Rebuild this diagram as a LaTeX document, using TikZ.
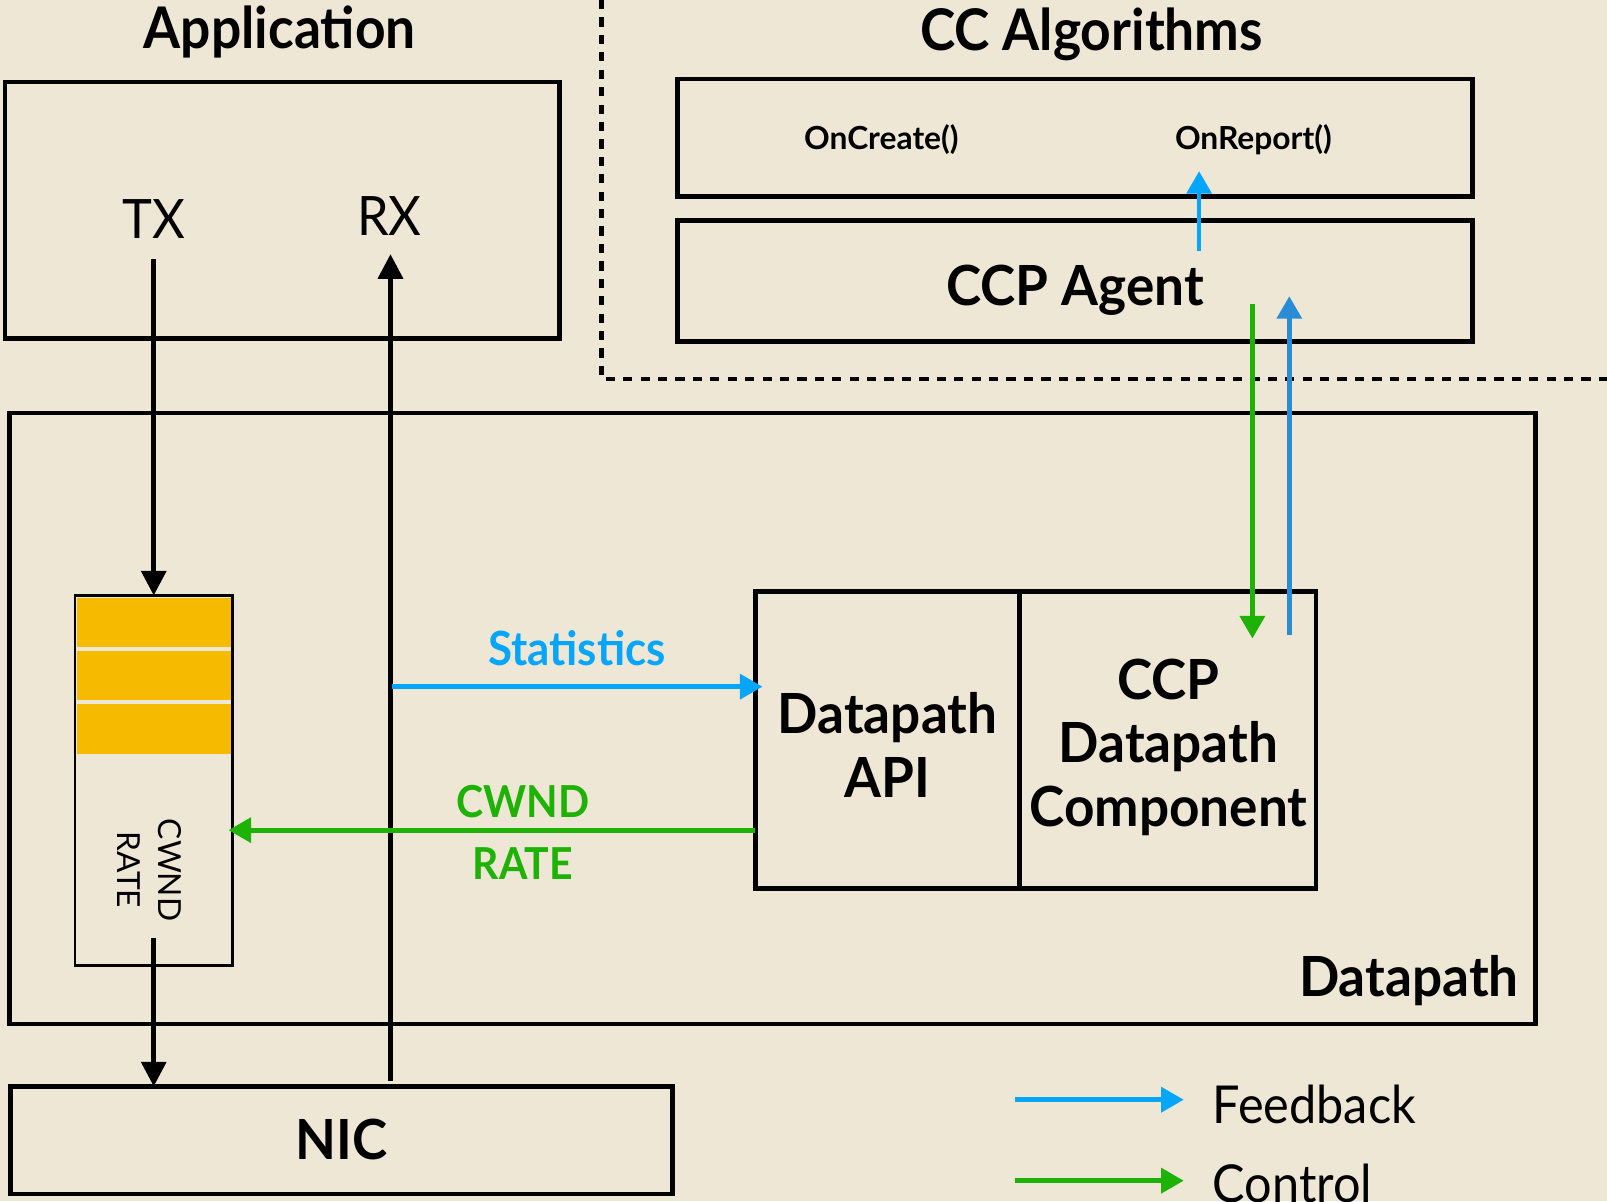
\documentclass[tikz,border=0pt]{standalone}
\usepackage{fontspec}
\setmainfont{Lato}
\newfontfamily\narrowfont{Lato}[FakeStretch=0.93]
\newfontfamily\boxfont{Lato}[FakeStretch=0.96]
\usetikzlibrary{arrows.meta}

\definecolor{paper}{RGB}{239,231,213}
\definecolor{feedblue}{RGB}{4,166,252}
\definecolor{reportblue}{RGB}{42,140,215}
\definecolor{ctrlgreen}{RGB}{30,178,4}
\definecolor{queuefill}{RGB}{246,187,0}

\tikzset{
  box/.style={draw=black, line width=4.6pt, inner sep=0pt, outer sep=0pt},
  thinbox/.style={draw=black, line width=2.4pt, inner sep=0pt, outer sep=0pt},
  title/.style={font=\narrowfont\bfseries\fontsize{56}{62}\selectfont, inner sep=0pt},
  boxtext/.style={font=\boxfont\bfseries\fontsize{54}{62}\selectfont, inner sep=0pt, align=center},
  plaintext/.style={font=\narrowfont\fontsize{53}{60}\selectfont, inner sep=0pt},
  smalltext/.style={font=\bfseries\fontsize{31}{36}\selectfont, inner sep=0pt},
  flowlabel/.style={font=\narrowfont\bfseries\fontsize{43}{60}\selectfont, inner sep=0pt},
  legendtext/.style={font=\narrowfont\fontsize{51}{60}\selectfont, inner sep=0pt},
  blackarrow/.style={line width=4.6pt, -{Triangle[length=24pt,width=24pt]}},
  bluearrow/.style={feedblue, line width=4.6pt, -{Triangle[length=22pt,width=24pt]}},
  greenarrow/.style={ctrlgreen, line width=4.6pt, -{Triangle[length=22pt,width=24pt]}},
}

\begin{document}
\begin{tikzpicture}[x=1pt, y=-1pt]
  % canvas
  \fill[paper] (0,0) rectangle (1568,1172);
  \useasboundingbox (0,0) rectangle (1568,1172);

  % boundary of the congestion-control side
  \draw[line width=4.2pt, dash pattern=on 9pt off 8pt] (587,0) -- (587,370) -- (1568,370);

  % titles
  \node[title, anchor=base] (apptitle) at (273,47) {Application};
  \node[title, anchor=base] (cctitle) at (1065,49) {CC Algorithms};

  % application
  \node[box, minimum width=541pt, minimum height=250pt] (app) at (275.5,205) {};
  \node[plaintext, anchor=base] (tx) at (150,233) {TX};
  \node[plaintext, anchor=base] (rx) at (380,230) {RX};

  % CC algorithm side
  \node[box, minimum width=776pt, minimum height=115pt] (algo) at (1049,134.5) {};
  \node[smalltext, anchor=base] (oncreate) at (860,146) {OnCreate()};
  \node[smalltext, anchor=base] (onreport) at (1223,146) {OnReport()};
  \node[box, minimum width=776pt, minimum height=118pt] (agent) at (1049,274) {};
  \node[boxtext, anchor=base] (agentlabel) at (1049,298) {CCP Agent};

  % datapath
  \node[box, minimum width=1489pt, minimum height=596pt] (datapath) at (753.5,701) {};
  \node[boxtext, anchor=base east] (dplabel) at (1482,972) {Datapath};

  % send queue
  \fill[queuefill] (75,583) rectangle (225,736);
  \draw[paper, line width=3.5pt] (75,633) -- (225,633) (75,685) -- (225,685);
  \node[thinbox, minimum width=154pt, minimum height=361pt] (queue) at (150,761.5) {};
  \node[font=\fontsize{31}{40}\selectfont, inner sep=0pt, align=center, rotate=-90] (qlabel) at (145.5,849) {CWND\\RATE};

  % datapath API and CCP component
  \node[box, minimum width=258pt, minimum height=290pt] (api) at (866,722) {};
  \node[box, minimum width=289pt, minimum height=290pt] (comp) at (1139.5,722) {};
  \node[boxtext] (apilabel) at (866,727) {Datapath\\API};
  \node[boxtext] (complabel) at (1140,729) {CCP\\Datapath\\Component};

  % NIC
  \node[box, minimum width=646pt, minimum height=105pt] (nic) at (333,1112.5) {};
  \node[boxtext, anchor=base] (niclabel) at (333,1131) {NIC};

  % connector end points
  \coordinate (txout) at (150,253);
  \coordinate (qout) at (150,915);
  \coordinate (rxin) at (381,248);
  \coordinate (rxbase) at (381,1055);
  \coordinate (statstart) at (382,670);
  \coordinate (ctrlrow) at (740,810);
  \coordinate (agentup) at (1170,245);
  \coordinate (algotip) at (1170,167);
  \coordinate (ctrltop) at (1222,297);
  \coordinate (ctrlbottom) at (1222,623);
  \coordinate (fbbottom) at (1258,620);
  \coordinate (fbtop) at (1258,289);

  % packet path
  \draw[blackarrow] (txout) -- (queue.north);
  \draw[blackarrow] (qout) -- (qout |- nic.north);
  \draw[blackarrow] (rxbase) -- (rxin);

  % statistics and control
  \draw[bluearrow] (statstart) -- ([xshift=7pt]api.west |- statstart);
  \node[flowlabel, feedblue, font=\narrowfont\bfseries\fontsize{46}{50}\selectfont, anchor=base] (statlabel) at (563,649) {Statistics};
  \draw[greenarrow] (api.west |- ctrlrow) -- ([xshift=-4pt]queue.east |- ctrlrow);
  \node[flowlabel, ctrlgreen, anchor=base] (cwndlabel) at (510,798) {CWND};
  \node[flowlabel, ctrlgreen, anchor=base] (ratelabel) at (510,858) {RATE};

  % agent <-> datapath component
  \draw[bluearrow] (agentup) -- (algotip);
  \draw[greenarrow] (ctrltop) -- (ctrlbottom);
  \draw[bluearrow, reportblue] (fbbottom) -- (fbtop);

  % legend
  \coordinate (fbl) at (990,1073);
  \coordinate (fbr) at (1155,1073);
  \coordinate (ctl) at (990,1152);
  \coordinate (ctr) at (1155,1152);
  \draw[bluearrow] (fbl) -- (fbr);
  \draw[greenarrow] (ctl) -- (ctr);
  \node[legendtext, anchor=base west] (fblabel) at (1183,1096) {Feedback};
  \node[legendtext, anchor=base west] (ctlabel) at (1183,1173) {Control};
\end{tikzpicture}
\end{document}
